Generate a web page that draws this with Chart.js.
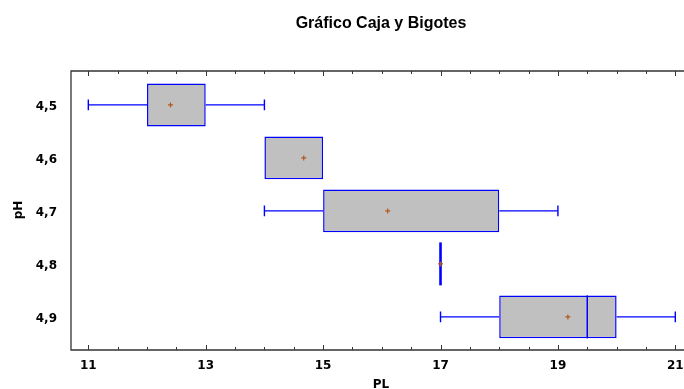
<!DOCTYPE html>
<html>
<head>
<meta charset="utf-8">
<script src="https://cdn.jsdelivr.net/npm/chart.js@4.4.1/dist/chart.umd.min.js"></script>
<style>
  html, body { margin: 0; padding: 0; background: #fff; }
  canvas { display: block; }
</style>
</head>
<body>
<canvas id="chart" width="684" height="389"></canvas>
<script>
// pH groups (top to bottom) and the box-plot statistics of PL for each
const categories = ['4,5', '4,6', '4,7', '4,8', '4,9']
const whiskerLow = [11, 14, 14, 17, 17]
const q1 = [12, 14, 15, 17, 18]
const medians = [12, 14, 15, 17, 19.5]
const q3 = [13, 15, 18, 17, 20]
const whiskerHigh = [14, 15, 19, 17, 21]
const means = [12.4, 14.67, 16.1, 17, 19.17]

const xLabels = [11, 13, 15, 17, 19, 21]
const xMinorStep = 0.5

const tickFont = { family: '"DejaVu Sans"', size: 12, weight: 'bold' }
const boxHalf = 0.405   // half box height, in category units
const capHalf = 0.1

const boxPlotPlugin = {
  id: 'boxPlotExtras',
  afterDatasetsDraw(chart) {
    const { ctx, scales: { x, y } } = chart
    ctx.save()
    categories.forEach((c, i) => {
      const yc = y.getPixelForValue(i + 1)
      const yTop = y.getPixelForValue(i + 1 - boxHalf)
      const yBot = y.getPixelForValue(i + 1 + boxHalf)
      const capT = y.getPixelForValue(i + 1 - capHalf)
      const capB = y.getPixelForValue(i + 1 + capHalf)

      ctx.strokeStyle = '#0000ff'
      ctx.lineWidth = 1.4

      // whiskers
      if (whiskerLow[i] < q1[i]) {
        const xl = x.getPixelForValue(whiskerLow[i])
        ctx.beginPath()
        ctx.moveTo(xl, yc); ctx.lineTo(x.getPixelForValue(q1[i]), yc)
        ctx.moveTo(xl, capT); ctx.lineTo(xl, capB)
        ctx.stroke()
      }
      if (whiskerHigh[i] > q3[i]) {
        const xh = x.getPixelForValue(whiskerHigh[i])
        ctx.beginPath()
        ctx.moveTo(x.getPixelForValue(q3[i]), yc); ctx.lineTo(xh, yc)
        ctx.moveTo(xh, capT); ctx.lineTo(xh, capB)
        ctx.stroke()
      }

      // median (hidden by the box edge when it equals a quartile)
      const xm = x.getPixelForValue(medians[i])
      const flat = q1[i] === q3[i]
      if (flat || (medians[i] !== q1[i] && medians[i] !== q3[i])) {
        ctx.lineWidth = flat ? 2.6 : 1.5
        ctx.beginPath()
        ctx.moveTo(xm, yTop); ctx.lineTo(xm, yBot)
        ctx.stroke()
      }

      // mean marker
      const xa = x.getPixelForValue(means[i])
      ctx.strokeStyle = '#b4561c'
      ctx.lineWidth = 1.2
      ctx.beginPath()
      ctx.moveTo(xa - 2.5, yc); ctx.lineTo(xa + 2.5, yc)
      ctx.moveTo(xa, yc - 2.5); ctx.lineTo(xa, yc + 2.5)
      ctx.stroke()
    })
    ctx.restore()
  },
  afterDraw(chart) {
    const { ctx, chartArea: area, scales: { x } } = chart
    ctx.save()

    // frame: left, top and bottom lines
    ctx.strokeStyle = '#333'
    ctx.lineWidth = 1.3
    ctx.beginPath()
    ctx.moveTo(area.right, area.top); ctx.lineTo(area.left, area.top)
    ctx.lineTo(area.left, area.bottom); ctx.lineTo(area.right, area.bottom)
    ctx.stroke()

    // inward ticks on top and bottom
    ctx.lineWidth = 1
    ctx.beginPath()
    for (let v = xLabels[0]; v <= x.max; v += xMinorStep) {
      const px = Math.round(x.getPixelForValue(v)) + 0.5
      const len = xLabels.includes(v) ? 5 : 3
      ctx.moveTo(px, area.top); ctx.lineTo(px, area.top + len)
      ctx.moveTo(px, area.bottom); ctx.lineTo(px, area.bottom - len)
    }
    ctx.stroke()

    // title and axis titles
    ctx.fillStyle = '#000'
    ctx.textAlign = 'center'
    ctx.textBaseline = 'alphabetic'
    ctx.font = 'bold 16px "Liberation Sans", Arial, sans-serif'
    ctx.fillText('Gráfico Caja y Bigotes', 381, 28)

    ctx.font = 'bold 12px "DejaVu Sans", sans-serif'
    ctx.fillText('PL', 381, 388)

    ctx.translate(22, 210)
    ctx.rotate(-Math.PI / 2)
    ctx.fillText('pH', 0, 0)
    ctx.restore()
  }
}

new Chart(document.getElementById('chart'), {
  type: 'bar',
  data: {
    datasets: [{
      data: categories.map((c, i) => ({ x: [q1[i], q3[i]], y: i + 1 })),
      backgroundColor: '#c0c0c0',
      borderColor: '#0000ff',
      borderWidth: 1.5,
      borderSkipped: false,
      barPercentage: 0.81,
      categoryPercentage: 1
    }]
  },
  options: {
    indexAxis: 'y',
    responsive: false,
    animation: false,
    layout: { padding: { top: 71, left: 0, right: 0, bottom: 0 } },
    plugins: {
      legend: { display: false },
      tooltip: { enabled: false },
      title: { display: false }
    },
    scales: {
      x: {
        type: 'linear',
        min: 10.705,
        max: 21.148,
        offset: false,
        grid: { display: false, drawTicks: false },
        border: { display: false },
        afterBuildTicks: axis => { axis.ticks = xLabels.map(v => ({ value: v })) },
        afterFit: scale => {
          scale.height = 39
          scale.paddingLeft = 0
          scale.paddingRight = 0
        },
        ticks: {
          font: tickFont,
          color: '#000',
          padding: 9,
          autoSkip: false,
          maxRotation: 0,
          callback: v => String(v)
        }
      },
      y: {
        type: 'linear',
        reverse: true,
        offset: false,
        min: 0.36,
        max: 5.625,
        grid: { display: false, drawTicks: false, offset: false },
        border: { display: false },
        afterBuildTicks: axis => { axis.ticks = categories.map((c, i) => ({ value: i + 1 })) },
        afterFit: scale => {
          scale.width = 71
          scale.paddingTop = 0
          scale.paddingBottom = 0
        },
        ticks: {
          font: tickFont,
          color: '#000',
          padding: 14,
          labelOffset: 2,
          callback: v => categories[v - 1]
        }
      }
    }
  },
  plugins: [boxPlotPlugin]
})
</script>
</body>
</html>
